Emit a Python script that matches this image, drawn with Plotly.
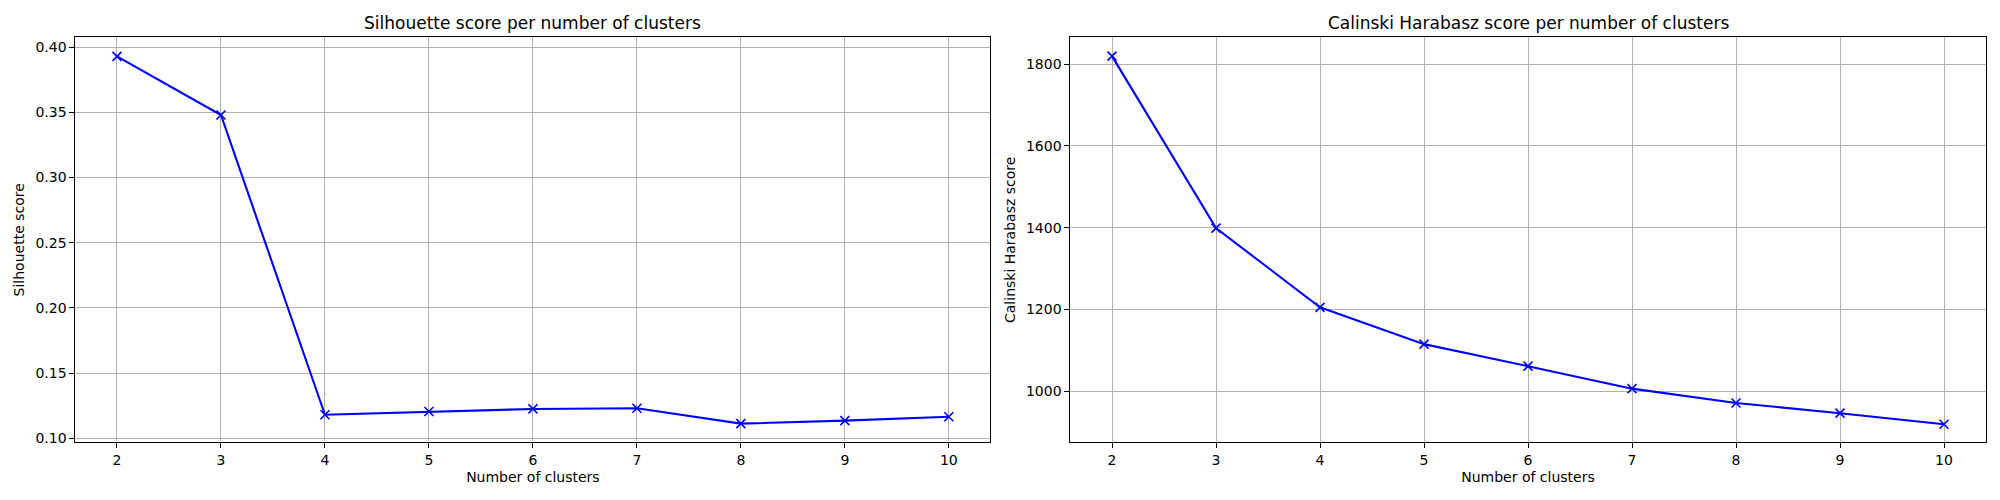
import plotly.graph_objects as go
from plotly.subplots import make_subplots

n_clusters = [2, 3, 4, 5, 6, 7, 8, 9, 10]
silhouette_scores = [0.393, 0.348, 0.118, 0.1205, 0.1225, 0.123, 0.1112, 0.1135, 0.1165]
calinski_scores = [1820, 1399, 1205, 1115, 1061, 1006, 971, 946, 919]

FONT = 'DejaVu Sans'


def add_curve(fig, y, col):
    fig.add_trace(go.Scatter(
        x=n_clusters, y=y, mode='lines+markers',
        line=dict(color='blue', width=2.1),
        marker=dict(symbol='x-thin', size=9, line=dict(color='blue', width=1.6)),
        showlegend=False,
    ), row=1, col=col)


fig = make_subplots(rows=1, cols=2)
add_curve(fig, silhouette_scores, 1)
add_curve(fig, calinski_scores, 2)

axis_style = dict(
    showline=True, linecolor='black', linewidth=1.1, mirror=True,
    ticks='outside', ticklen=5, tickwidth=1.1, tickcolor='black',
    showgrid=True, gridcolor='#b0b0b0', gridwidth=1.1,
    zeroline=False, automargin=False,
    tickfont=dict(family=FONT, size=14, color='black'),
)

fig.update_xaxes(axis_style)
fig.update_yaxes(axis_style)

fig.update_xaxes(range=[1.6, 10.4], dtick=1, tick0=2,
                 title=dict(text='Number of clusters', standoff=5,
                            font=dict(family=FONT, size=14, color='black')))
fig.update_xaxes(domain=[0.0377, 0.4952], row=1, col=1)
fig.update_xaxes(domain=[0.5352, 0.9928], row=1, col=2)

fig.update_yaxes(domain=[0.1154, 0.9254])
fig.update_yaxes(range=[0.0969, 0.4076], dtick=0.05, tick0=0.1, tickformat='.2f',
                 title=dict(text='Silhouette score', standoff=7,
                            font=dict(family=FONT, size=14, color='black')),
                 row=1, col=1)
fig.update_yaxes(range=[874.7, 1866], dtick=200, tick0=1000,
                 title=dict(text='Calinski Harabasz score', standoff=7,
                            font=dict(family=FONT, size=14, color='black')),
                 row=1, col=2)

titles = [('Silhouette score per number of clusters', 0.0377, 0.4952),
          ('Calinski Harabasz score per number of clusters', 0.5352, 0.9928)]
for text, x0, x1 in titles:
    fig.add_annotation(text=text, x=(x0 + x1) / 2, y=0.9254, xref='paper', yref='paper',
                       xanchor='center', yanchor='bottom', yshift=2, showarrow=False,
                       font=dict(family=FONT, size=17, color='black'))

fig.update_layout(
    width=2000, height=500,
    margin=dict(l=0, r=0, t=0, b=0),
    paper_bgcolor='white', plot_bgcolor='white',
    font=dict(family=FONT, color='black'),
)

# the page's default body margin would shift the figure by 8px
fig.write_html('out.html', config={'displayModeBar': False},
               post_script="document.body.style.margin = '0';")
